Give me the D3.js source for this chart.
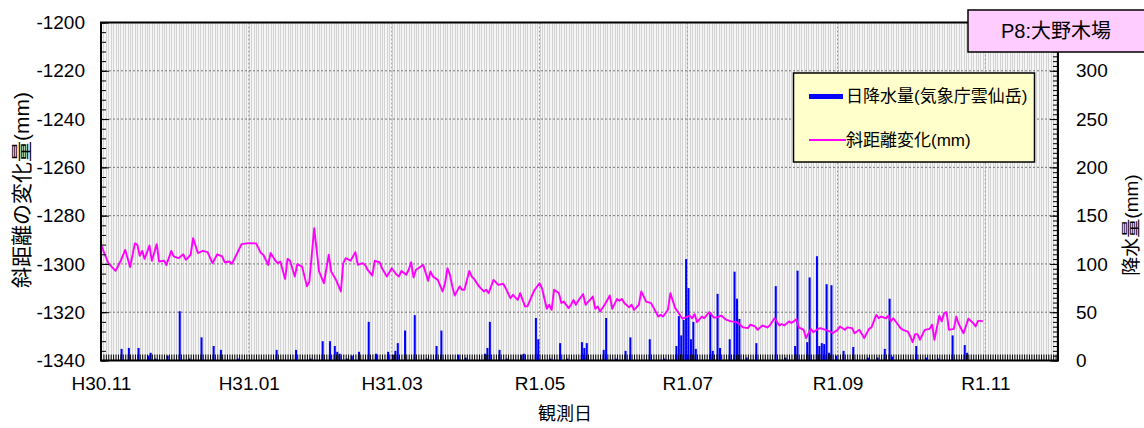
<!DOCTYPE html>
<html>
<head>
<meta charset="utf-8">
<script src="https://cdn.jsdelivr.net/npm/d3@7"></script>
<style>
body { margin: 0; background: #fff; }
svg text { font-family: "Liberation Sans", "Noto Sans CJK JP", Arial, sans-serif; fill: #000; }
</style>
</head>
<body>
<svg id="chart" width="1144" height="428"></svg>
<script>
// 斜距離変化 / 日降水量 chart (P8:大野木場)
// days are counted from 2018-11-01 (H30.11)

var startDate = new Date(Date.UTC(2018, 10, 1));
var endDate = new Date(Date.UTC(2019, 11, 1));

// month ticks and their labels
var monthTicks = ['2018-11-01', '2019-01-01', '2019-03-01', '2019-05-01', '2019-07-01', '2019-09-01', '2019-11-01'];
var monthLabels = ['H30.11', 'H31.01', 'H31.03', 'R1.05', 'R1.07', 'R1.09', 'R1.11'];

var leftTicks = [-1340, -1320, -1300, -1280, -1260, -1240, -1220, -1200];
var rightTicks = [0, 50, 100, 150, 200, 250, 300];

// [day, 斜距離変化 mm]
var distSeries = [
    [0,-1292.1],[3,-1299.7],[6,-1302.9],[8,-1299.0],[10,-1294.2],[12,-1301.3],[14,-1291.5],[15,-1292.1],
    [16,-1296.6],[17,-1294.6],[18,-1297.9],[20,-1292.4],[21,-1298.7],[23,-1291.8],[24,-1299.0],[26,-1298.7],
    [27,-1300.4],[29,-1294.6],[30,-1296.9],[32,-1297.6],[34,-1296.0],[35,-1298.3],[37,-1296.2],[38,-1289.3],
    [40,-1295.5],[42,-1294.6],[44,-1295.1],[46,-1299.7],[48,-1296.0],[50,-1296.9],[51,-1299.3],[53,-1299.0],
    [54,-1300.0],[56,-1296.0],[58,-1291.8],[61,-1291.4],[64,-1291.5],[66,-1295.5],[67,-1296.2],[69,-1300.4],
    [70,-1295.5],[72,-1298.7],[73,-1299.7],[74,-1299.0],[76,-1306.2],[77,-1297.9],[78,-1298.7],[80,-1305.2],
    [81,-1300.1],[83,-1301.1],[85,-1309.3],[86,-1307.3],[88,-1285.2],[90,-1303.1],[92,-1308.0],[94,-1296.2],
    [95,-1303.1],[97,-1306.6],[99,-1311.4],[100,-1299.7],[101,-1297.6],[103,-1298.7],[105,-1295.1],[106,-1300.4],
    [108,-1299.7],[109,-1300.4],[110,-1302.4],[112,-1304.8],[113,-1298.7],[115,-1299.3],[116,-1301.8],[118,-1305.2],
    [120,-1301.8],[122,-1304.5],[123,-1305.2],[124,-1302.9],[126,-1304.5],[127,-1302.4],[128,-1299.3],[129,-1305.6],
    [130,-1302.4],[131,-1301.8],[132,-1301.1],[133,-1300.4],[135,-1307.0],[136,-1303.1],[137,-1305.2],[139,-1306.6],
    [141,-1311.4],[142,-1308.0],[143,-1301.8],[144,-1304.5],[145,-1309.3],[146,-1313.1],[148,-1309.3],[149,-1310.7],
    [150,-1310.7],[152,-1302.9],[153,-1305.2],[154,-1306.2],[156,-1309.3],[158,-1311.4],[159,-1310.7],[160,-1312.1],
    [162,-1306.6],[164,-1308.7],[166,-1308.2],[167,-1310.0],[169,-1314.2],[170,-1312.8],[172,-1314.9],[173,-1312.1],
    [175,-1317.6],[176,-1317.6],[178,-1312.8],[179,-1310.7],[181,-1308.0],[182,-1310.0],[184,-1318.6],[185,-1316.9],
    [186,-1319.0],[187,-1310.7],[189,-1312.1],[190,-1316.2],[191,-1315.6],[193,-1318.3],[194,-1316.9],[195,-1314.9],
    [196,-1316.9],[197,-1315.2],[199,-1312.5],[200,-1316.9],[203,-1313.5],[204,-1318.6],[205,-1317.6],[206,-1319.7],
    [208,-1316.7],[210,-1313.1],[211,-1318.6],[213,-1314.5],[214,-1315.3],[215,-1314.5],[216,-1316.2],[218,-1318.0],
    [219,-1316.9],[220,-1319.0],[222,-1316.9],[223,-1311.4],[225,-1315.6],[227,-1316.2],[228,-1318.0],[230,-1321.8],
    [231,-1321.1],[232,-1321.8],[234,-1319.0],[235,-1312.1],[237,-1318.3],[238,-1319.7],[240,-1322.7],[242,-1321.8],
    [243,-1321.4],[244,-1322.5],[245,-1320.8],[246,-1324.1],[248,-1321.8],[249,-1322.5],[251,-1320.0],[253,-1322.2],
    [254,-1322.2],[256,-1321.4],[258,-1323.1],[260,-1323.8],[262,-1324.0],[263,-1324.5],[265,-1326.3],[267,-1326.6],
    [268,-1325.2],[270,-1325.9],[271,-1327.3],[273,-1325.5],[275,-1326.3],[276,-1325.5],[278,-1322.5],[280,-1325.5],
    [281,-1324.9],[282,-1325.5],[284,-1323.8],[285,-1324.5],[287,-1322.9],[288,-1326.3],[290,-1327.3],[291,-1330.7],
    [293,-1326.9],[294,-1328.3],[296,-1326.9],[297,-1326.6],[299,-1327.3],[301,-1328.0],[302,-1328.7],[304,-1327.3],
    [305,-1325.9],[307,-1327.3],[308,-1326.3],[310,-1326.6],[311,-1328.7],[313,-1327.3],[315,-1330.7],[317,-1326.9],
    [318,-1326.3],[320,-1321.1],[321,-1322.5],[322,-1321.8],[324,-1322.5],[325,-1321.4],[326,-1323.8],[327,-1322.5],
    [329,-1325.2],[330,-1326.6],[331,-1327.3],[333,-1328.0],[334,-1330.0],[335,-1332.4],[336,-1329.1],[337,-1329.1],
    [338,-1331.4],[340,-1327.3],[342,-1326.9],[343,-1325.2],[344,-1331.4],[346,-1321.4],[347,-1323.8],[348,-1320.4],
    [349,-1320.0],[350,-1327.3],[352,-1326.9],[353,-1321.8],[354,-1324.9],[356,-1328.7],[358,-1322.7],[360,-1324.5],
    [361,-1325.9],[362,-1323.6],[363,-1323.6],[364,-1323.8]
];

// [day, 日降水量 mm]
var rainSeries = [
    [8,12],[11,13],[15,13],[19,5],[20,8],[22,2],[27,5],[32,51],[36,2],[41,24],[46,15],[49,11],[56,2],
    [72,11],[80,11],[86,2],[91,20],[94,20],[96,15],[97,9],[98,7],[101,2],[103,5],[106,9],[110,40],[113,7],
    [118,9],[120,6],[121,10],[122,18],[125,31],[129,47],[134,2],[138,15],[140,31],[147,6],[150,3],[158,7],
    [159,13],[160,40],[164,11],[167,2],[173,6],[174,7],[179,44],[180,22],[185,2],[189,18],[192,2],[198,19],
    [199,13],[200,18],[207,11],[208,44],[212,2],[216,10],[218,24],[226,22],[232,2],[237,15],[238,46],[239,26],
    [240,42],[241,105],[242,75],[243,22],[244,40],[245,12],[251,50],[252,10],[254,69],[255,13],[259,22],
    [261,92],[262,64],[263,43],[266,3],[270,18],[278,77],[282,3],[286,15],[287,93],[291,19],[292,86],[295,108],
    [296,15],[297,18],[298,17],[299,79],[300,8],[301,78],[303,5],[306,10],[310,14],[316,3],[320,3],[323,12],
    [325,64],[326,4],[336,15],[340,3],[345,2],[351,26],[356,16],[357,8]
];

var svg = d3.select('#chart');
var plotL = 101, plotR = 1058, plotT = 22.5, plotB = 360.5;

var x = d3.scaleUtc().domain([startDate, endDate]).range([plotL, plotR]);
var yL = d3.scaleLinear().domain([-1340, -1200]).range([plotB, plotT]);
var yR = d3.scaleLinear().domain([0, 350]).range([plotB, plotT]);
var parseDay = d3.utcParse('%Y-%m-%d');
var dayDate = function (n) { return d3.utcDay.offset(startDate, n); };
var tickDates = monthTicks.map(parseDay);
var plainNum = function (d) { return String(d); }; // keep ascii hyphen for minus

// plot background with one faint line per day
svg.append('rect')
    .attr('x', plotL).attr('y', plotT)
    .attr('width', plotR - plotL).attr('height', plotB - plotT)
    .attr('fill', '#f6f6f6');

svg.append('g').selectAll('line')
    .data(d3.utcDay.range(startDate, endDate))
    .join('line')
    .attr('x1', function (d) { return Math.round(x(d)) + 0.5; })
    .attr('x2', function (d) { return Math.round(x(d)) + 0.5; })
    .attr('y1', plotT).attr('y2', plotB)
    .attr('stroke', '#d2d2d2').attr('stroke-width', 1);

// dotted grid
svg.append('g').selectAll('line')
    .data(leftTicks.slice(1, -1))
    .join('line')
    .attr('x1', plotL).attr('x2', plotR)
    .attr('y1', function (d) { return yL(d); })
    .attr('y2', function (d) { return yL(d); })
    .attr('stroke', '#777').attr('stroke-dasharray', '2,2');

svg.append('g').selectAll('line')
    .data(tickDates.slice(1))
    .join('line')
    .attr('x1', function (d) { return x(d); })
    .attr('x2', function (d) { return x(d); })
    .attr('y1', plotT).attr('y2', plotB)
    .attr('stroke', '#999').attr('stroke-dasharray', '2,2');

// rain bars (right axis)
svg.append('g').selectAll('rect')
    .data(rainSeries)
    .join('rect')
    .attr('x', function (d) { return x(dayDate(d[0])) + 0.2; })
    .attr('width', function (d) { return x(dayDate(d[0] + 1)) - x(dayDate(d[0])) - 0.4; })
    .attr('y', function (d) { return yR(d[1]); })
    .attr('height', function (d) { return yR(0) - yR(d[1]); })
    .attr('fill', '#0000ff');

// slope distance line (left axis)
var line = d3.line()
    .x(function (d) { return x(dayDate(d[0])); })
    .y(function (d) { return yL(d[1]); });

svg.append('path')
    .datum(distSeries)
    .attr('d', line)
    .attr('fill', 'none')
    .attr('stroke', '#ff00ff')
    .attr('stroke-width', 1.9)
    .attr('stroke-linejoin', 'round');

// axes, ticks point into the plot
var styleText = function (g, size) {
    g.selectAll('text').attr('font-size', size).attr('font-family', null);
    g.select('.domain').remove();
};

svg.append('g').attr('transform', 'translate(' + plotL + ',0)')
    .call(d3.axisLeft(yL).tickValues(d3.range(-1340, -1199, 4)).tickSize(-5).tickFormat(''))
    .call(styleText, 19);
svg.append('g').attr('transform', 'translate(' + plotL + ',0)')
    .call(d3.axisLeft(yL).tickValues(leftTicks).tickSize(-8).tickPadding(16).tickFormat(plainNum))
    .call(styleText, 19);

svg.append('g').attr('transform', 'translate(' + plotR + ',0)')
    .call(d3.axisRight(yR).tickValues(d3.range(0, 351, 5)).tickSize(-5).tickFormat(''))
    .call(styleText, 19);
svg.append('g').attr('transform', 'translate(' + plotR + ',0)')
    .call(d3.axisRight(yR).tickValues(rightTicks).tickSize(-8).tickPadding(18).tickFormat(plainNum))
    .call(styleText, 19);

svg.append('g').attr('transform', 'translate(0,' + plotB + ')')
    .call(d3.axisBottom(x).ticks(d3.utcDay.every(1)).tickSize(-6).tickFormat(''))
    .call(styleText, 19);
svg.append('g').attr('transform', 'translate(0,' + plotB + ')')
    .call(d3.axisBottom(x).tickValues(tickDates).tickSize(0).tickPadding(16)
        .tickFormat(function (d, i) { return monthLabels[i]; }))
    .call(styleText, 19);

// frame
svg.append('rect')
    .attr('x', plotL).attr('y', plotT)
    .attr('width', plotR - plotL).attr('height', plotB - plotT)
    .attr('fill', 'none').attr('stroke', '#000').attr('stroke-width', 2);

// axis titles
svg.append('text')
    .attr('transform', 'translate(29,190) rotate(-90)')
    .attr('text-anchor', 'middle').attr('font-size', 21)
    .text('斜距離の変化量(mm)');
svg.append('text')
    .attr('transform', 'translate(1138,225) rotate(-90)')
    .attr('text-anchor', 'middle').attr('font-size', 19)
    .text('降水量(mm)');
svg.append('text')
    .attr('x', 565).attr('y', 420)
    .attr('text-anchor', 'middle').attr('font-size', 18)
    .text('観測日');

// legend
var legend = svg.append('g');
legend.append('rect')
    .attr('x', 793.5).attr('y', 73).attr('width', 241).attr('height', 89)
    .attr('fill', '#ffffcc').attr('stroke', '#000').attr('stroke-width', 1.5);
legend.append('rect')
    .attr('x', 809).attr('y', 94).attr('width', 34).attr('height', 5)
    .attr('fill', '#0000ff');
legend.append('text')
    .attr('x', 846).attr('y', 102).attr('font-size', 17)
    .text('日降水量(気象庁雲仙岳)');
legend.append('line')
    .attr('x1', 809).attr('x2', 846).attr('y1', 140).attr('y2', 140)
    .attr('stroke', '#ff00ff').attr('stroke-width', 2);
legend.append('text')
    .attr('x', 846).attr('y', 146).attr('font-size', 17)
    .text('斜距離変化(mm)');

// station label
svg.append('rect')
    .attr('x', 968).attr('y', 10).attr('width', 190).attr('height', 42)
    .attr('fill', '#ffccff').attr('stroke', '#000').attr('stroke-width', 1.5);
svg.append('text')
    .attr('x', 1056).attr('y', 38)
    .attr('text-anchor', 'middle').attr('font-size', 20)
    .text('P8:大野木場');
</script>
</body>
</html>
